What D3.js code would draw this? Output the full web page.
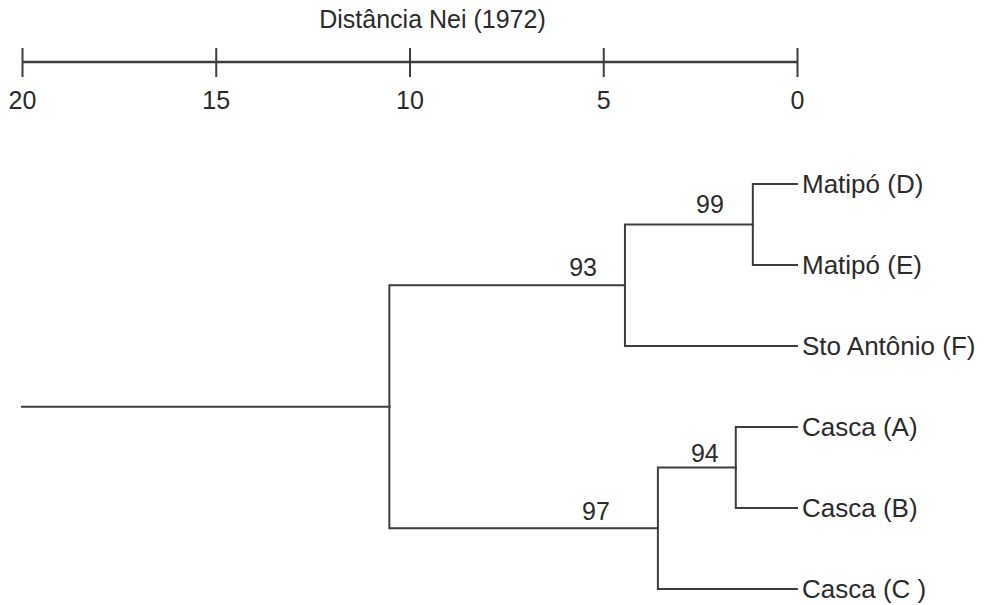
<!DOCTYPE html>
<html>
<head>
<meta charset="utf-8">
<script src="https://cdn.jsdelivr.net/npm/d3@7"></script>
<style>
  html, body { margin: 0; padding: 0; background: #fff; }
  svg { display: block; }
  text { font-family: "Liberation Sans", Arial, sans-serif; fill: #2a2a2a; }
</style>
</head>
<body>
<svg id="chart" width="985" height="605"></svg>
<script>
// Leaves, in drawing order (top to bottom)
const leafNames = ["Matipó (D)", "Matipó (E)", "Sto Antônio (F)", "Casca (A)", "Casca (B)", "Casca (C )"];

// Internal clusters: id, the two members joined, joining distance, bootstrap support
const clusterIds      = ["DE", "DEF", "AB", "ABC", "root"];
const clusterChildren = [["Matipó (D)", "Matipó (E)"], ["DE", "Sto Antônio (F)"],
                         ["Casca (A)", "Casca (B)"], ["AB", "Casca (C )"], ["DEF", "ABC"]];
const clusterHeights  = [1.14, 4.44, 1.58, 3.59, 10.52];
const clusterSupport  = [99, 93, 94, 97, null];

// Distance scale
const axisTitle = "Distância Nei (1972)";
const axisTicks = [20, 15, 10, 5, 0];
const rootStart = 20;

const svg = d3.select("#chart");
const stroke = "#3d3d3d";
const fontSize = 25;

const x = d3.scaleLinear().domain([20, 0]).range([22, 797]);

// ---- scale bar at the top ----
svg.append("text")
  .attr("x", x(10) + 23).attr("y", 28)
  .attr("text-anchor", "middle")
  .attr("font-size", fontSize)
  .text(axisTitle);

const axisY = 62;
const axisG = svg.append("g")
  .attr("transform", `translate(0,${axisY})`)
  .call(d3.axisBottom(x).tickValues(axisTicks).tickSize(15).tickFormat(d3.format("d")));
axisG.select(".domain").attr("d", `M${x(20)},0H${x(0)}`)
  .attr("stroke", stroke).attr("stroke-width", 2.5);
axisG.selectAll(".tick line").attr("y1", -14).attr("y2", 15)
  .attr("stroke", stroke).attr("stroke-width", 2);
axisG.selectAll(".tick text")
  .attr("y", 47).attr("dy", null)
  .attr("font-size", fontSize)
  .attr("font-family", '"Liberation Sans", Arial, sans-serif')
  .attr("fill", "#2a2a2a");

// ---- build hierarchy ----
const heightOf = {};
const supportOf = {};
const childrenOf = {};
clusterIds.forEach((id, i) => {
  childrenOf[id] = clusterChildren[i];
  heightOf[id] = clusterHeights[i];
  supportOf[id] = clusterSupport[i];
});
leafNames.forEach(n => { heightOf[n] = 0; });

function build(id) {
  const node = { name: id, dist: heightOf[id], support: supportOf[id] };
  if (childrenOf[id]) node.children = childrenOf[id].map(build);
  return node;
}
const root = d3.hierarchy(build("root"));

// Equal leaf spacing; each parent centred on its children
d3.cluster().size([1, 1]).separation(() => 1)(root);
const leafExtent = d3.extent(root.leaves(), d => d.x);
const y = d3.scaleLinear().domain(leafExtent).range([184, 589]);
root.each(d => { d.py = y(d.x); d.px = x(d.data.dist); });

// ---- branches (elbow links) ----
const g = svg.append("g")
  .attr("fill", "none").attr("stroke", stroke).attr("stroke-width", 2)
  .attr("stroke-linecap", "square");

g.selectAll("path.link")
  .data(root.links())
  .join("path")
  .attr("class", "link")
  .attr("d", l => `M${l.source.px},${l.source.py}V${l.target.py}H${l.target.px}`);

// root stub
g.append("path").attr("d", `M${x(rootStart)},${root.py}H${root.px}`);

// ---- leaf labels ----
svg.selectAll("text.leaf")
  .data(root.leaves())
  .join("text")
  .attr("class", "leaf")
  .attr("x", d => d.px + 5)
  .attr("y", d => d.py + 9)
  .attr("font-size", 26)
  .text(d => d.data.name);

// ---- bootstrap support labels, set above the branch leading into each node ----
const supportNudge = { DE: [-29, -12], DEF: [-28, -9], AB: [-17, -6], ABC: [-48, -8] };
svg.selectAll("text.support")
  .data(root.descendants().filter(d => d.data.support != null))
  .join("text")
  .attr("class", "support")
  .attr("text-anchor", "end")
  .attr("x", d => d.px + supportNudge[d.data.name][0])
  .attr("y", d => d.py + supportNudge[d.data.name][1])
  .attr("font-size", fontSize)
  .text(d => d.data.support);
</script>
</body>
</html>
